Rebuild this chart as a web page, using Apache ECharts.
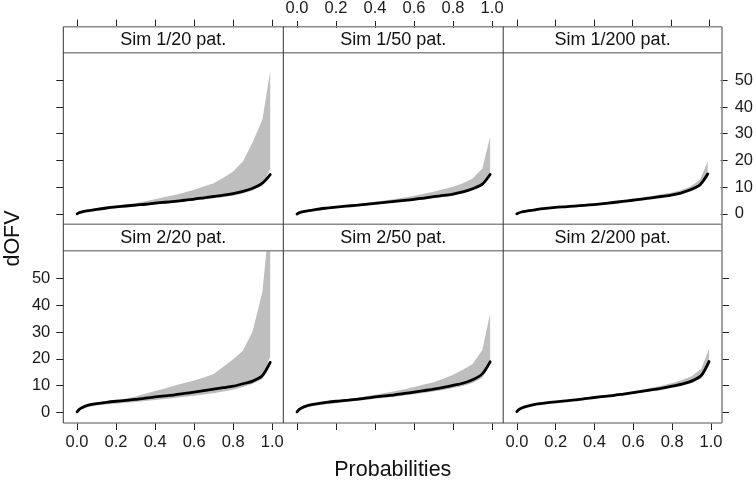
<!DOCTYPE html>
<html>
<head>
<meta charset="utf-8">
<script src="https://cdn.jsdelivr.net/npm/echarts@6/dist/echarts.min.js"></script>
<style>html,body{margin:0;padding:0;background:#fff;}#c{width:756px;height:481px;}</style>
</head>
<body>
<div id="c"></div>
<script>
// ---- data ----
var probs = [0, 0.01, 0.025, 0.05, 0.1, 0.15, 0.2, 0.25, 0.3, 0.35, 0.4, 0.45, 0.5, 0.55, 0.6, 0.65, 0.7, 0.75, 0.8, 0.85, 0.9, 0.95, 0.99];
var panelNames = ["Sim 1/20 pat.", "Sim 1/50 pat.", "Sim 1/200 pat.", "Sim 2/20 pat.", "Sim 2/50 pat.", "Sim 2/200 pat."];
var xTicks = [0, 0.2, 0.4, 0.6, 0.8, 1.0];
var yTicks = [0, 10, 20, 30, 40, 50];

var line1 = [0, 0.4, 0.75, 1.1, 1.7, 2.2, 2.6, 2.95, 3.3, 3.6, 4.0, 4.35, 4.7, 5.1, 5.5, 6.0, 6.5, 7.0, 7.6, 8.4, 9.6, 11.5, 14.7];
var upper1 = [0, 0.5, 0.9, 1.3, 2.0, 2.5, 3.0, 3.5, 4.0, 4.7, 5.5, 6.3, 7.1, 8.0, 9.0, 10.2, 11.5, 13.5, 15.9, 19.6, 26.8, 35.3, 53.4];
var lower1 = [0, 0.3, 0.6, 0.9, 1.3, 1.7, 2.1, 2.45, 2.8, 3.1, 3.5, 3.85, 4.2, 4.6, 5.0, 5.4, 5.8, 6.3, 6.8, 7.6, 8.7, 10.6, 17];

var line2 = [0, 0.4, 0.75, 1.1, 1.75, 2.2, 2.6, 2.95, 3.25, 3.6, 4.0, 4.35, 4.75, 5.1, 5.5, 6.0, 6.5, 7.0, 7.5, 8.3, 9.5, 11.25, 14.9];
var upper2 = [0, 0.5, 0.85, 1.25, 1.95, 2.45, 2.9, 3.25, 3.6, 4.1, 4.6, 5.1, 5.6, 6.2, 6.9, 7.6, 8.4, 9.3, 10.25, 11.6, 13.4, 17.1, 29];
var lower2 = [0, 0.3, 0.6, 0.9, 1.4, 1.8, 2.2, 2.55, 2.9, 3.2, 3.6, 3.95, 4.3, 4.65, 5.0, 5.4, 5.9, 6.4, 7.0, 7.8, 8.9, 10.8, 14];

var line3 = [0, 0.35, 0.7, 1.0, 1.6, 2.05, 2.4, 2.65, 2.9, 3.2, 3.5, 3.85, 4.25, 4.65, 5.1, 5.55, 6.0, 6.5, 7.0, 7.8, 9.0, 10.9, 14.9];
var upper3 = [0, 0.4, 0.8, 1.15, 1.75, 2.2, 2.6, 2.9, 3.2, 3.5, 3.85, 4.25, 4.7, 5.15, 5.6, 6.15, 6.7, 7.3, 7.9, 8.8, 10.2, 12.8, 19.6];
var lower3 = [0, 0.3, 0.6, 0.9, 1.45, 1.9, 2.25, 2.5, 2.75, 3.0, 3.3, 3.65, 4.0, 4.4, 4.8, 5.2, 5.6, 6.1, 6.6, 7.3, 8.4, 10.0, 13.5];

var line4 = [0.25, 1.1, 1.8, 2.6, 3.3, 3.8, 4.2, 4.55, 4.9, 5.35, 5.8, 6.2, 6.6, 7.1, 7.6, 8.15, 8.7, 9.25, 9.8, 10.7, 11.7, 13.8, 18.7];
var upper4 = [0.3, 1.3, 2.0, 2.8, 3.6, 4.1, 4.5, 5.2, 6.0, 7.0, 8.0, 9.0, 10.1, 11.0, 11.9, 13.1, 14.4, 17.1, 19.9, 23.0, 30.3, 45, 75];
var lower4 = [0.2, 0.8, 1.4, 2.0, 2.6, 3.0, 3.3, 3.6, 3.9, 4.3, 4.7, 5.05, 5.4, 5.85, 6.3, 6.75, 7.2, 7.8, 8.5, 9.5, 10.7, 12.5, 21];

var line5 = [0.25, 1.1, 1.8, 2.5, 3.2, 3.75, 4.2, 4.55, 4.9, 5.35, 5.8, 6.2, 6.6, 7.1, 7.6, 8.15, 8.7, 9.35, 10.1, 10.9, 12.2, 14.4, 18.9];
var upper5 = [0.3, 1.3, 2.0, 2.7, 3.5, 4.0, 4.5, 4.95, 5.4, 6.0, 6.6, 7.25, 7.9, 8.7, 9.5, 10.4, 11.3, 12.6, 14.1, 15.9, 18.1, 23.3, 36.9];
var lower5 = [0.2, 0.8, 1.4, 2.0, 2.7, 3.1, 3.5, 3.9, 4.3, 4.7, 5.1, 5.5, 5.9, 6.35, 6.8, 7.3, 7.8, 8.4, 9.1, 9.9, 11.0, 13.0, 18.0];

var line6 = [0.35, 1.1, 1.7, 2.3, 3.1, 3.6, 4.0, 4.35, 4.7, 5.15, 5.6, 6.0, 6.4, 6.9, 7.4, 7.95, 8.5, 9.1, 9.8, 10.6, 11.7, 13.8, 19.0];
var upper6 = [0.4, 1.25, 1.85, 2.5, 3.3, 3.8, 4.2, 4.6, 5.0, 5.5, 6.0, 6.4, 6.8, 7.35, 7.9, 8.6, 9.3, 10.1, 11.0, 12.1, 13.5, 16.3, 23.7];
var lower6 = [0.3, 0.9, 1.5, 2.1, 2.85, 3.35, 3.75, 4.1, 4.45, 4.85, 5.25, 5.6, 6.0, 6.5, 7.0, 7.5, 8.0, 8.6, 9.2, 10.0, 10.9, 12.8, 17.5];

var lines = [line1, line2, line3, line4, line5, line6];
var uppers = [upper1, upper2, upper3, upper4, upper5, upper6];
var lowers = [lower1, lower2, lower3, lower4, lower5, lower6];

// ---- layout ----
var FONT = "'Liberation Sans', Arial, Helvetica, sans-serif";
var colLeft = [63.3, 283.3, 503.2];
var colW = [220, 219.9, 218.8];
var rowTop = [52.7, 250.7];
var rowH = [171.6, 172.3];
var frameTop = 26.7, frameBottom = 423, frameLeft = 63.3, frameRight = 722;
var XMIN = -0.0705, XMAX = 1.057, YMIN = -3.9, YMAX = 60.3;

var grids = [], xAxes = [], yAxes = [], series = [], graphics = [];

function makeBand(idx) {
  return function (params, api) {
    var pts = [];
    for (var k = 0; k < probs.length; k++) pts.push(api.coord([probs[k], uppers[idx][k]]));
    for (var k2 = probs.length - 1; k2 >= 0; k2--) pts.push(api.coord([probs[k2], lowers[idx][k2]]));
    var cs = params.coordSys;
    return {
      type: 'polygon',
      shape: {points: pts},
      style: {fill: '#bebebe', stroke: null},
      clipPath: {type: 'rect', shape: {x: cs.x, y: cs.y, width: cs.width, height: cs.height}}
    };
  };
}

for (var i = 0; i < 6; i++) {
  var r = Math.floor(i / 3), c = i % 3;
  grids.push({left: colLeft[c], top: rowTop[r], width: colW[c], height: rowH[r], containLabel: false, show: false});
  xAxes.push({
    gridIndex: i, type: 'value', min: XMIN, max: XMAX,
    position: r === 0 ? 'top' : 'bottom',
    offset: r === 0 ? 26 : 0,
    axisLine: {show: false, onZero: false}, splitLine: {show: false},
    axisTick: {show: true, customValues: xTicks, length: 7, lineStyle: {color: '#222', width: 1}},
    axisLabel: {show: (r === 0 && c === 1) || (r === 1 && c !== 1), customValues: xTicks,
      formatter: function (v) { return v.toFixed(1); }, fontSize: 16.5, fontFamily: FONT, color: '#1a1a1a', margin: 11}
  });
  yAxes.push({
    gridIndex: i, type: 'value', min: YMIN, max: YMAX,
    position: c === 2 ? 'right' : 'left',
    axisLine: {show: false, onZero: false}, splitLine: {show: false},
    axisTick: {show: c !== 1, customValues: yTicks, length: 7, lineStyle: {color: '#222', width: 1}},
    axisLabel: {show: (c === 0 && r === 1) || (c === 2 && r === 0), customValues: yTicks,
      fontSize: 16.5, fontFamily: FONT, color: '#1a1a1a', margin: c === 2 ? 14 : 13}
  });
  var lineData = [];
  for (var k = 0; k < probs.length; k++) lineData.push([probs[k], lines[i][k]]);
  series.push({type: 'custom', xAxisIndex: i, yAxisIndex: i, data: [[0.5, 5]],
    renderItem: makeBand(i), silent: true, animation: false, z: 2});
  series.push({type: 'line', xAxisIndex: i, yAxisIndex: i, data: lineData, smooth: 0.25,
    symbol: 'none', lineStyle: {color: '#000', width: 2.8, cap: 'round', join: 'round'}, silent: true, animation: false, clip: true, z: 5});

  var stripTop = r === 0 ? frameTop : 224.3;
  var stripBot = r === 0 ? 52.7 : 250.7;
  graphics.push({type: 'text', z: 101, style: {text: panelNames[i], x: colLeft[c] + colW[c] / 2, y: (stripTop + stripBot) / 2 + 0.5,
    align: 'center', verticalAlign: 'middle', fontSize: 18, fontFamily: FONT, fill: '#111'}});
}

// frame lines
[frameTop, 52.7, 224.3, 250.7, frameBottom].forEach(function (y) {
  graphics.push({type: 'line', z: 100, shape: {x1: frameLeft, y1: y, x2: frameRight, y2: y},
    style: {stroke: '#8a8a8a', lineWidth: 1.6}});
});
[frameLeft, 283.3, 503.2].forEach(function (x) {
  graphics.push({type: 'line', z: 100, shape: {x1: x, y1: frameTop, x2: x, y2: frameBottom},
    style: {stroke: '#333', lineWidth: 1}});
});
graphics.push({type: 'line', z: 100, shape: {x1: frameRight, y1: frameTop, x2: frameRight, y2: frameBottom},
  style: {stroke: '#8a8a8a', lineWidth: 1.6}});

// axis titles
graphics.push({type: 'text', z: 101, x: 13.5, y: 238.5, rotation: Math.PI / 2,
  style: {text: 'dOFV', x: 0, y: 0, align: 'center', verticalAlign: 'middle', fontSize: 21.5, fontFamily: FONT, fill: '#111'}});
graphics.push({type: 'text', z: 101,
  style: {text: 'Probabilities', x: 392.8, y: 470.5, align: 'center', verticalAlign: 'middle', fontSize: 21.5, fontFamily: FONT, fill: '#111'}});

var chart = echarts.init(document.getElementById('c'), null, {renderer: 'canvas'});
chart.setOption({
  animation: false,
  backgroundColor: '#fff',
  grid: grids, xAxis: xAxes, yAxis: yAxes, series: series, graphic: graphics
});
</script>
</body>
</html>
